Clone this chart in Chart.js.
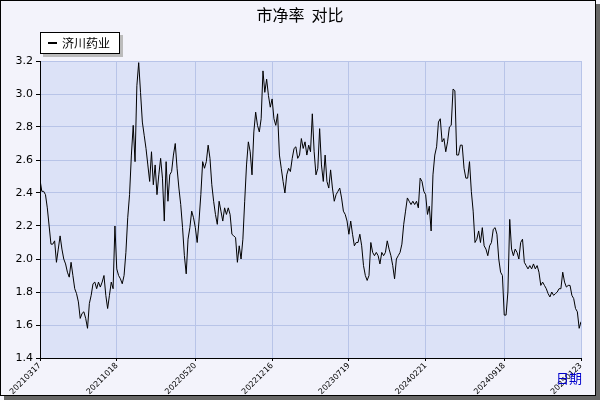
<!DOCTYPE html>
<html><head><meta charset="utf-8">
<script src="https://cdn.jsdelivr.net/npm/chart.js@4/dist/chart.umd.min.js"></script>
<style>html,body{margin:0;padding:0;background:#fff}#wrap{width:600px;height:400px;position:relative}</style>
</head><body><div id="wrap"><canvas id="c" width="600" height="400"></canvas></div>
<script>
const chartTitle = '市净率  对比';
const seriesName = '济川药业';
const xAxisTitle = '日期';
const dateLabels = ['20210317','20211018','20220520','20221216','20230719','20240221','20240918','20250123'];
const yTicks = [1.4,3.2,0.2];
const pbValues = [
2.48,2.41,2.41,2.39,2.31,2.20,2.09,2.09,2.11,1.98,2.06,2.14,2.06,2.00,1.97,1.92,1.89,1.98,1.90,1.82,1.79,1.74,1.64,1.67,1.68,1.64,1.58,1.73,1.78,1.85,1.86,1.82,1.86,1.83,1.86,1.90,1.78,1.70,1.78,1.86,1.82,2.20,1.94,1.90,1.88,1.85,1.90,2.04,2.25,2.39,2.63,2.81,2.59,3.05,3.19,3.01,2.83,2.75,2.67,2.57,2.47,2.65,2.45,2.57,2.39,2.51,2.61,2.49,2.23,2.59,2.35,2.51,2.53,2.63,2.70,2.55,2.43,2.33,2.19,2.02,1.91,2.12,2.19,2.29,2.25,2.19,2.10,2.23,2.39,2.59,2.55,2.59,2.69,2.61,2.45,2.35,2.27,2.21,2.35,2.29,2.23,2.31,2.27,2.31,2.27,2.15,2.14,2.13,
1.98,2.08,2.00,2.12,2.35,2.57,2.71,2.65,2.51,2.77,2.89,2.81,2.77,2.85,3.14,3.01,3.09,2.99,2.92,2.97,2.85,2.81,2.88,2.63,2.55,2.47,2.40,2.51,2.55,2.53,2.61,2.67,2.68,2.61,2.63,2.73,2.67,2.71,2.63,2.69,2.65,2.88,2.65,2.51,2.55,2.79,2.57,2.47,2.63,2.47,2.43,2.54,2.43,2.35,2.39,2.41,2.43,2.37,2.29,2.27,2.23,2.15,2.23,2.15,2.08,2.10,2.10,2.15,2.08,1.96,1.90,1.87,1.90,2.10,2.04,2.02,2.04,2.02,1.97,2.04,2.02,2.04,2.11,2.06,2.02,1.96,1.88,2.00,2.02,2.04,2.09,2.21,2.29,2.37,2.35,2.33,2.35,2.33,2.35,2.31,2.49,2.47,
2.41,2.39,2.27,2.32,2.17,2.51,2.63,2.68,2.83,2.85,2.71,2.73,2.65,2.71,2.80,2.81,3.03,3.02,2.63,2.63,2.69,2.69,2.55,2.49,2.49,2.59,2.41,2.29,2.10,2.12,2.17,2.10,2.19,2.08,2.06,2.02,2.08,2.10,2.18,2.19,2.15,2.00,1.92,1.90,1.66,1.66,1.80,2.24,2.06,2.02,2.06,2.04,2.00,2.10,2.12,1.98,1.96,1.94,1.96,1.94,1.97,1.94,1.96,1.92,1.84,1.86,1.84,1.82,1.79,1.77,1.80,1.78,1.79,1.80,1.82,1.82,1.92,1.86,1.83,1.84,1.84,1.78,1.76,1.70,1.68,1.58,1.62
];
const N = pbValues.length;
const labelIdx = dateLabels.map((d,k)=>Math.round(k*(N-1)/(dateLabels.length-1)));
const points = pbValues.map((v,i)=>({x:i,y:v}));

const deco = {
  id:'deco',
  beforeDraw(ch){
    const c=ch.ctx, a=ch.chartArea;
    c.save();
    c.fillStyle='#F3F3FB'; c.fillRect(0,0,600,400);
    c.fillStyle='#DCE2F7'; c.fillRect(a.left,a.top,a.right-a.left,a.bottom-a.top);
    c.restore();
  },
  afterDraw(ch){
    const c=ch.ctx;
    c.save();
    c.fillStyle='#666'; c.fillRect(596,4,4,396); c.fillRect(4,396,596,4);
    c.strokeStyle='#000'; c.lineWidth=1; c.strokeRect(0.5,0.5,595,395);
    c.fillStyle='#000'; c.font='16px "Noto Sans CJK SC"'; c.textAlign='center'; c.textBaseline='middle';
    c.fillText(chartTitle,300,15);
    c.fillStyle='#bbb'; c.fillRect(43,35,80,22);
    c.fillStyle='#fff'; c.fillRect(40,32,80,22);
    c.strokeStyle='#000'; c.strokeRect(40.5,32.5,79,21);
    c.fillStyle='#000'; c.fillRect(48,42,9,2);
    c.font='12px "Noto Sans CJK SC"'; c.textAlign='left';
    c.fillText(seriesName,62,43);
    c.fillStyle='#0000CC'; c.font='13px "Noto Sans CJK SC"';
    c.fillText(xAxisTitle,556,378);
    c.restore();
  }
};

new Chart(document.getElementById('c'),{
  type:'line',
  data:{datasets:[{label:seriesName,data:points,borderColor:'#000',borderWidth:1,pointRadius:0,tension:0,fill:false}]},
  options:{
    responsive:false,animation:false,
    layout:{padding:{top:61,right:19,left:0,bottom:0}},
    plugins:{legend:{display:false},title:{display:false},tooltip:{enabled:false}},
    scales:{
      x:{type:'linear',min:0,max:N-1,
        afterBuildTicks(s){s.ticks=labelIdx.map(v=>({value:v}));},
        afterFit(s){s.height=42;},
        ticks:{autoSkip:false,maxRotation:45,minRotation:45,padding:0,color:'#000',font:{size:8,family:'DejaVu Sans'},
          callback(v){const k=labelIdx.indexOf(v);return k>=0?dateLabels[k]:'';}},
        grid:{color:'#B8C4E8',tickColor:'#000',tickLength:3},
        border:{color:'#000'}},
      y:{min:yTicks[0],max:yTicks[1],
        afterFit(s){s.width=40;},
        ticks:{stepSize:yTicks[2],color:'#000',font:{size:11,family:'DejaVu Sans'},callback:v=>v.toFixed(1)},
        grid:{color:'#B8C4E8',tickColor:'#000',tickLength:4},
        border:{color:'#000'}}
    }
  },
  plugins:[deco]
});
</script></body></html>
